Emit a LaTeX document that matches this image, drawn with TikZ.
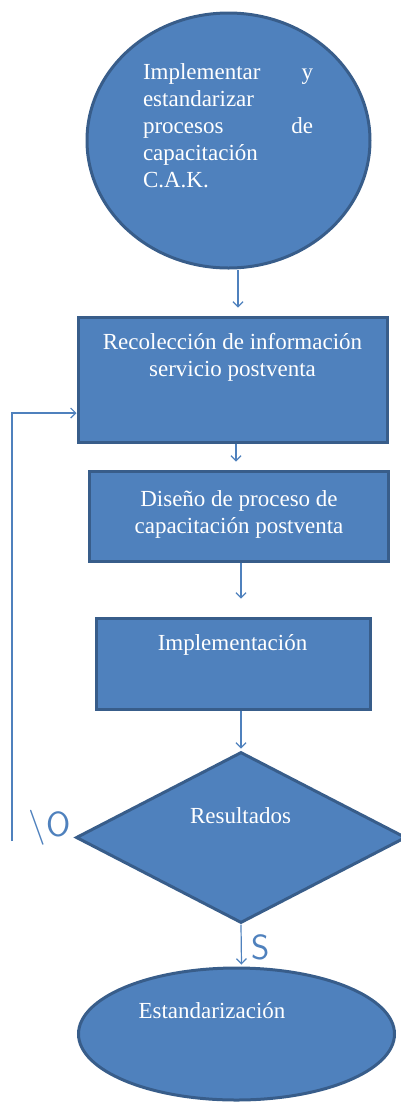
\documentclass[tikz,border=0pt]{standalone}
\usepackage{fontspec}
\setmainfont{Liberation Serif}
\usetikzlibrary{shapes.geometric}
\usetikzlibrary{arrows.meta}

\definecolor{shapefill}{HTML}{4F81BD}
\definecolor{shapeline}{HTML}{385D8A}
\definecolor{arrowline}{HTML}{4F81BD}

\tikzset{
  shapebox/.style={draw=shapeline, fill=shapefill, line width=3pt, inner sep=0pt},
  boxtext/.style={text=white, font=\fontsize{23}{27}\selectfont, align=center, inner sep=0pt},
  arr/.style={draw=arrowline, line width=1.2pt, -{Straight Barb[length=5pt,width=10pt]}},
  answer/.style={text=arrowline, font=\sffamily\fontsize{35}{35}\selectfont, inner sep=0pt}
}

\begin{document}
\begin{tikzpicture}[x=1pt, y=-1pt]
\useasboundingbox (0,0) rectangle (401,1104);

% Start
\node [shapebox, ellipse, minimum width=283pt, minimum height=255pt] (start) at (228.5,140.5) {};
\node [boxtext, text width=170pt, align=left] (starttxt) at (228,125.5)
  {Implementar\hfill y\\ estandarizar\\ procesos\hfill de\\ capacitación\\ C.A.K.};

% Boxes
\node [shapebox, rectangle, minimum width=309pt, minimum height=125pt] (recol) at (232.5,379.5) {};
\node [boxtext] (recoltxt) at (232.5,357.5) {Recolección de información\\ servicio postventa};

\node [shapebox, rectangle, minimum width=299pt, minimum height=90pt] (design) at (238.5,516) {};
\node [boxtext] (designtxt) at (239,514) {Diseño de proceso de\\ capacitación postventa};

\node [shapebox, rectangle, minimum width=274pt, minimum height=91pt] (impl) at (233,663.5) {};
\node [boxtext] (impltxt) at (232.5,645) {Implementación};

% Decision
\node [shapebox, diamond, minimum width=330pt, minimum height=171pt] (dec) at (241,837.5) {};
\node [boxtext] (dectxt) at (240.5,816) {Resultados};

% End
\node [shapebox, ellipse, minimum width=316pt, minimum height=132pt] (fin) at (236.5,1034) {};
\node [boxtext] (fintxt) at (212,1011) {Estandarización};

% Arrows
\draw [arr] ([xshift=9.5pt]start.south) -- ([xshift=5.5pt,yshift=8pt]recol.north);
\draw [arr] ([xshift=3.5pt]recol.south) -- ([xshift=-2.5pt,yshift=8pt]design.north);
\draw [arr] ([xshift=2.5pt]design.south) -- ([xshift=8pt,yshift=18pt]impl.north);
\draw [arr] ([xshift=8pt]impl.south) -- ([yshift=2pt]dec.north);
\draw [arr] (dec.south) -- ([xshift=5pt,yshift=2pt]fin.north);

% Loop back
\coordinate (noend) at (12,841);
\draw [arr] (noend) |- ([yshift=-33.5pt]recol.west);

% Answers
\node [answer] (notxt) at (49.5,828) {\textbackslash O};
\node [answer] (sitxt) at (260.5,947.5) {S};

\end{tikzpicture}
\end{document}
